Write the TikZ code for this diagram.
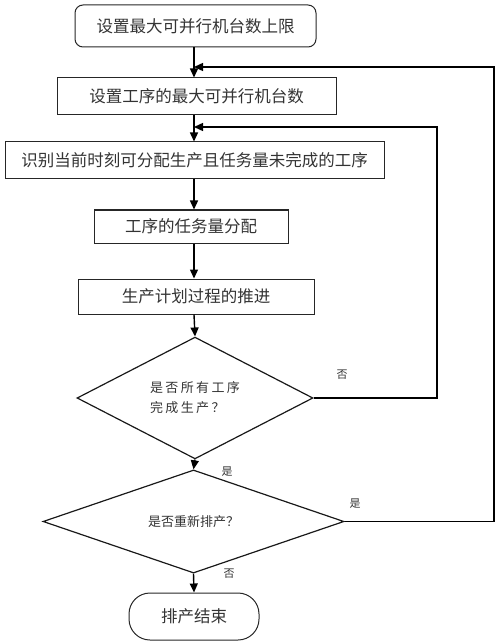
\documentclass[tikz,border=0pt]{standalone}
\usepackage{fontspec}
\setmainfont{Noto Sans CJK SC}
\newfontfamily\cjkspaced[LetterSpace=18]{Noto Sans CJK SC}
\usetikzlibrary{shapes.geometric,arrows.meta}
\begin{document}
\begin{tikzpicture}[x=1pt,y=-1pt,
  box/.style={draw=black!85,line width=1pt,inner sep=0pt,text=black!80,font=\fontsize{16.5}{20}\selectfont},
  dia/.style={draw=black!90,diamond,line width=1.2pt,inner sep=0pt,text=black!80},
  lbl/.style={inner sep=0pt,text=black!80,font=\fontsize{11}{13}\selectfont},
  arr/.style={line width=1.4pt,-{Triangle[length=9pt,width=8pt]}}]
\useasboundingbox (0,0) rectangle (500,644);
\node[box,rounded corners=8pt,minimum width=241pt,minimum height=42pt] (b1) at (195.5,26) {设置最大可并行机台数上限};
\node[box,minimum width=279pt,minimum height=37pt] (b2) at (196.5,96.5) {设置工序的最大可并行机台数};
\node[box,minimum width=379pt,minimum height=37pt] (b3) at (194.5,160.5) {识别当前时刻可分配生产且任务量未完成的工序};
\node[box,minimum width=194pt,minimum height=33pt] (b4) at (191,226.5) {工序的任务量分配};
\node[box,minimum width=236pt,minimum height=35pt] (b5) at (196,296.5) {生产计划过程的推进};
\node[dia,minimum width=236pt,minimum height=114pt,align=left,font=\cjkspaced\fontsize{13}{20}\selectfont] (d1) at (195,398) {是否所有工序\\完成生产？};
\node[dia,minimum width=301pt,minimum height=63pt,font=\fontsize{13}{16}\selectfont] (d2) at (193.5,521.5) {是否重新排产？};
\node[box,rounded corners=21pt,minimum width=130pt,minimum height=47pt] (e) at (194,616.5) {排产结束};
\coordinate (ax) at (194,0);
\coordinate (j1) at (194,67);
\coordinate (j2) at (194,127);
\coordinate (r1) at (494,67);
\coordinate (r2) at (437,127);
\draw[arr] (b1.south -| ax) -- (b2.north -| ax);
\draw[arr] (b2.south -| ax) -- (b3.north -| ax);
\draw[arr] (b3.south -| ax) -- (b4.north -| ax);
\draw[arr] (b4.south -| ax) -- (b5.north -| ax);
\draw[arr] (b5.south -| ax) -- (d1.north);
\draw[arr] (d1.south) -- (d2.north);
\draw[arr] (d2.south) -- (e.north);
\draw[arr] (d1.east) -| (r2) -- (j2);
\draw[arr] (d2.east) -| (r1) -- (j1);
\node[lbl] (l1) at (342,375) {否};
\node[lbl] (l2) at (227,472) {是};
\node[lbl] (l3) at (355,504) {是};
\node[lbl] (l4) at (229,574) {否};
\end{tikzpicture}
\end{document}
